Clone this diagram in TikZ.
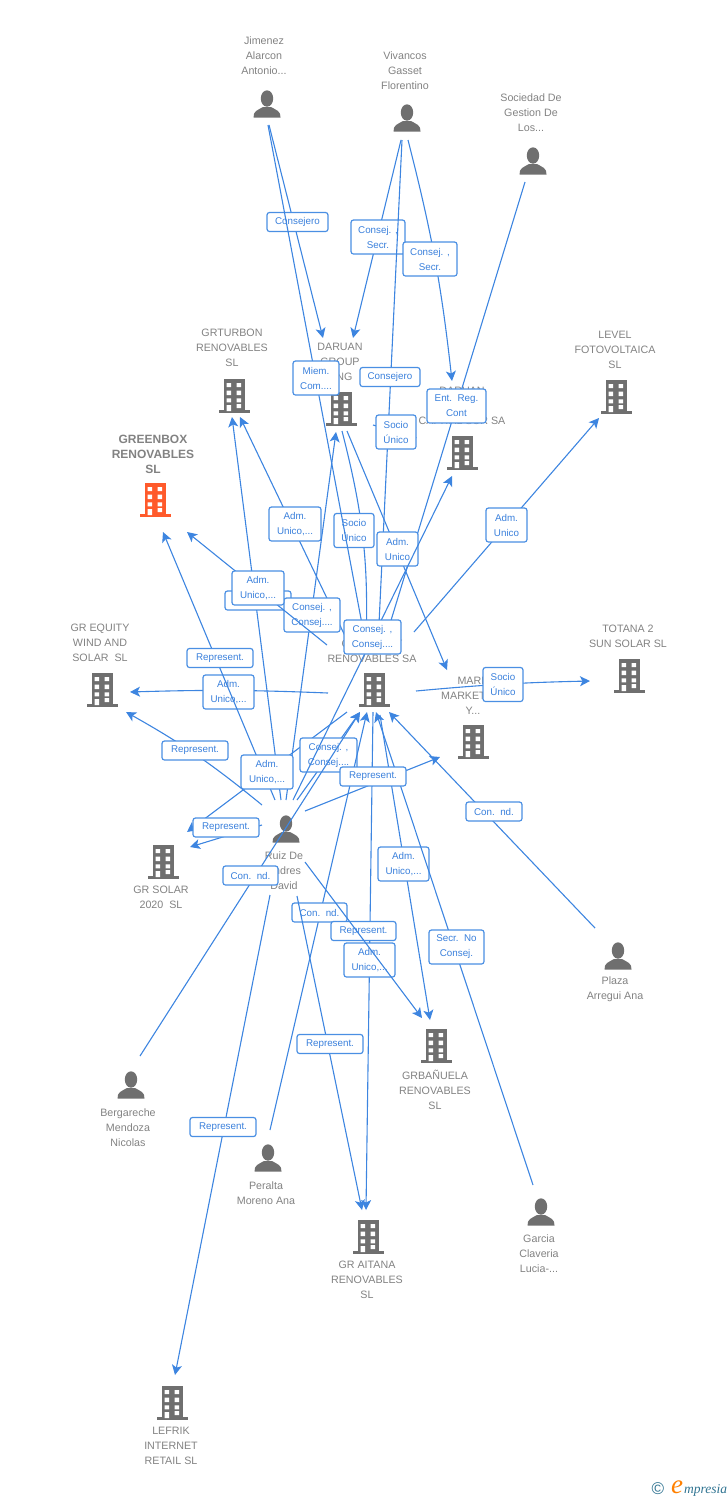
\documentclass[tikz,border=0pt]{standalone}
\usepackage{fontspec}
\setmainfont{Liberation Sans}
\newfontfamily\logofont{Liberation Serif}
\usetikzlibrary{arrows.meta}
\definecolor{linkblue}{HTML}{3D85E0}
\definecolor{boxblue}{HTML}{4A8FE3}
\definecolor{inkblue}{HTML}{3A80DC}
\definecolor{icongrey}{HTML}{6F6F6F}
\definecolor{txtgrey}{HTML}{828282}
\definecolor{hotorange}{HTML}{FF5A2B}
\definecolor{logoteal}{HTML}{2F7391}
\tikzset{
  ico/.style={inner sep=0pt,minimum size=1pt},
  txt/.style={inner sep=0pt,align=center,text=txtgrey,font=\fontsize{10.7}{15}\selectfont},
  conn/.style={draw=linkblue,line width=1.1pt,-{Stealth[length=10pt,width=10pt,inset=2.5pt]}},
  lbl/.style={draw=boxblue,line width=1.2pt,fill=white,rounded corners=2.5pt,inner sep=0pt,align=center,
    text=inkblue,font=\fontsize{9.8}{15}\selectfont},
  one/.style={lbl,minimum width=#1,minimum height=19pt},
  two/.style={lbl,minimum width=#1,minimum height=34pt},
  bldg/.pic={
    \fill[#1] (-10.5,-16) rectangle (10.5,16);
    \fill[#1] (-15.5,15) rectangle (15.5,17.5);
    \fill[white] (-7.3,-12) rectangle (-3,-8) (2.7,-12) rectangle (7,-8)
      (-7.3,-4.3) rectangle (-3,0) (2.7,-4.3) rectangle (7,0)
      (-7.3,3.3) rectangle (-3,7.3) (2.7,3.3) rectangle (7,7.3)
      (-7.3,10) rectangle (-3,16) (2.7,9) rectangle (7,13);
  },
  person/.pic={
    \fill[icongrey] (0,-5.5) ellipse (6.2 and 8.2);
    \fill[icongrey] (-13.5,13.5) .. controls (-14,7) and (-9,6) .. (-4,3) -- (4,3)
      .. controls (9,6) and (14,7) .. (13.5,13.5) -- cycle;
  },
}
\begin{document}
\begin{tikzpicture}[x=1pt,y=-1pt]
\useasboundingbox (0,0) rectangle (728,1500);
% ---------- entities
\node[ico] (jim) at (267,104) {}; \pic at (jim) {person};
\node[ico] (viv) at (407,118) {}; \pic at (viv) {person};
\node[ico] (soc) at (533,161) {}; \pic at (soc) {person};
\node[ico] (rui) at (286,829) {}; \pic at (rui) {person};
\node[ico] (ber) at (131,1085) {}; \pic at (ber) {person};
\node[ico] (pla) at (618,956) {}; \pic at (pla) {person};
\node[ico] (per) at (268,1158) {}; \pic at (per) {person};
\node[ico] (gar) at (541,1212) {}; \pic at (gar) {person};
\node[ico] (gtb) at (234,395) {}; \pic at (gtb) {bldg=icongrey};
\node[ico] (dgr) at (341,408) {}; \pic at (dgr) {bldg=icongrey};
\node[ico] (dcs) at (462,452) {}; \pic at (dcs) {bldg=icongrey};
\node[ico] (lev) at (616,396) {}; \pic at (lev) {bldg=icongrey};
\node[ico] (grb) at (155,499) {}; \pic at (grb) {bldg=hotorange};
\node[ico] (geq) at (102,689) {}; \pic at (geq) {bldg=icongrey};
\node[ico] (ren) at (374,689) {}; \pic at (ren) {bldg=icongrey};
\node[ico] (tot) at (629,675) {}; \pic at (tot) {bldg=icongrey};
\node[ico] (mrk) at (473,741) {}; \pic at (mrk) {bldg=icongrey};
\node[ico] (gso) at (163,861) {}; \pic at (gso) {bldg=icongrey};
\node[ico] (gba) at (436,1045) {}; \pic at (gba) {bldg=icongrey};
\node[ico] (gai) at (368,1236) {}; \pic at (gai) {bldg=icongrey};
\node[ico] (lef) at (172,1402) {}; \pic at (lef) {bldg=icongrey};
% ---------- entity names
\node[txt] (tjim) at (264,56) {Jimenez\\Alarcon\\Antonio...};
\node[txt] (tviv) at (405,71) {Vivancos\\Gasset\\Florentino};
\node[txt] (tsoc) at (531,113) {Sociedad De\\Gestion De\\Los...};
\node[txt] (tgtb) at (232,348) {GRTURBON\\RENOVABLES\\SL};
\node[txt] (tdgr) at (340,362) {DARUAN\\GROUP\\...NG};
\node[txt] (tdcs) at (462,406) {DARUAN\\[15pt]CAPITAL SUR SA};
\node[txt] (tlev) at (615,350) {LEVEL\\FOTOVOLTAICA\\SL};
\node[txt,font=\fontsize{12}{15}\bfseries\selectfont] (tgrb) at (153,454) {GREENBOX\\RENOVABLES\\SL};
\node[txt] (tgeq) at (100,643) {GR EQUITY\\WIND AND\\SOLAR\ \ SL};
\node[txt] (tren) at (372,651) {\makebox[61pt]{G\hfill T}\\RENOVABLES SA};
\node[txt] (ttot) at (628,636) {TOTANA 2\\SUN SOLAR SL};
\node[txt] (tmrk) at (473,696) {MARE\\MARKETING\\Y...};
\node[txt] (tgso) at (161,897) {GR SOLAR\\2020\ \ SL};
\node[txt] (trui) at (284,871) {Ruiz De\\Andres\\David};
\node[txt] (tber) at (128,1128) {Bergareche\\Mendoza\\Nicolas};
\node[txt] (tpla) at (615,989) {Plaza\\Arregui Ana};
\node[txt] (tgba) at (435,1090) {GRBAÑUELA\\RENOVABLES\\SL};
\node[txt] (tper) at (266,1193) {Peralta\\Moreno Ana};
\node[txt] (tgar) at (539,1254) {Garcia\\Claveria\\Lucia-...};
\node[txt] (tgai) at (367,1280) {GR AITANA\\RENOVABLES\\SL};
\node[txt] (tlef) at (171,1446) {LEFRIK\\INTERNET\\RETAIL SL};
% ---------- connectors, each followed by its label
\draw[conn] ([shift={(2,21)}]jim.center) -- ([shift={(-18,-70)}]dgr.center);
\node[one=61pt] (l01) at (297.5,222) {Consejero};
\draw[conn] ([shift={(-6,22)}]viv.center) -- ([shift={(12,-70)}]dgr.center);
\node[two=54pt] (l02) at (378,237) {Consej. ,\\Secr.};
\draw[conn] ([shift={(1,22)}]viv.center) to[bend left=4] ([shift={(-10,-71)}]dcs.center);
\node[two=54pt] (l03) at (430,259) {Consej. ,\\Secr.};
\draw[conn] ([shift={(-46,4)}]ren.center) to[bend right=2] ([shift={(28,3)}]geq.center);
\node[two=51pt] (l04) at (228.5,692) {Adm.\\Unico,...};
\draw[conn] ([shift={(1,23)}]dgr.center) to[bend left=8] ([shift={(-8,-45)}]ren.center);
\node[two=40pt] (l05) at (354,530.5) {Socio\\Único};
\draw[conn] ([shift={(-5,22)}]viv.center) -- ([shift={(4,-44)}]ren.center);
\node[one=60pt] (l06) at (390,377) {Consejero};
\draw[conn] ([shift={(1,21)}]jim.center) -- ([shift={(-9,-49)}]ren.center);
\node[two=46pt] (l07) at (316,378) {Miem.\\Com....};
\draw[conn] ([shift={(-8,21)}]soc.center) -- ([shift={(11,-49)}]ren.center);
\node[two=59pt] (l08) at (456.5,406) {Ent.\ \ Reg.\\Cont};
\draw[conn] ([shift={(32,17)}]dgr.center) -- ([shift={(-45,-14)}]dcs.center);
\node[two=40pt] (l09) at (396,432) {Socio\\Único};
\draw[conn] ([shift={(-27,-49)}]ren.center) -- ([shift={(6,22)}]gtb.center);
\node[two=52pt] (l10) at (295,524) {Adm.\\Unico,...};
\draw[conn] ([shift={(6,23)}]dgr.center) -- ([shift={(-26,-71)}]mrk.center);
\node[two=41pt] (l11) at (397.5,549) {Adm.\\Unico};
\draw[conn] ([shift={(40,-57)}]ren.center) -- ([shift={(-17,22)}]lev.center);
\node[two=41pt] (l12) at (506.5,525) {Adm.\\Unico};
\draw[conn] ([shift={(-5,-29)}]rui.center) -- ([shift={(-2,22)}]gtb.center);
\node[one=66pt] (l13) at (258,600.5) {Represent.};
\draw[conn] ([shift={(0,-29)}]rui.center) -- ([shift={(-5,24)}]dgr.center);
\node[two=56pt] (l14) at (312,615) {Consej. ,\\Consej....};
\draw[conn] ([shift={(-47,-44)}]ren.center) -- ([shift={(32,33)}]grb.center);
\node[two=52pt] (l15) at (258,588) {Adm.\\Unico,...};
\draw[conn] ([shift={(-11,-29)}]rui.center) -- ([shift={(8,33)}]grb.center);
\node[one=66pt] (l16) at (220,658) {Represent.};
\draw[conn] ([shift={(-24,-24)}]rui.center) to[bend right=5] ([shift={(24,23)}]geq.center);
\node[one=66pt] (l17) at (195,750.5) {Represent.};
\draw[conn] ([shift={(-27,23)}]ren.center) -- ([shift={(24,-29)}]gso.center);
\node[two=52pt] (l18) at (267,772) {Adm.\\Unico,...};
\draw[conn] ([shift={(-24,-4)}]rui.center) -- ([shift={(27,-14)}]gso.center);
\node[one=66pt] (l19) at (226,827.5) {Represent.};
\draw[conn] ([shift={(11,-29)}]rui.center) -- ([shift={(-14,23)}]ren.center);
\node[two=57pt] (l20) at (328.5,755) {Consej. ,\\Consej....};
\draw[conn] ([shift={(9,-29)}]ber.center) -- ([shift={(-14,23)}]ren.center);
\node[one=55pt] (l21) at (250.5,875.5) {Con.\ \ nd.};
\draw[conn] ([shift={(6,26)}]ren.center) -- ([shift={(-6,-25)}]gba.center);
\node[two=51pt] (l22) at (403.5,864) {Adm.\\Unico,...};
\draw[conn] ([shift={(-8,-27)}]gar.center) -- ([shift={(2,23)}]ren.center);
\node[two=55pt] (l23) at (456.5,947) {Secr.\ \ No\\Consej.};
\draw[conn] ([shift={(-1,23)}]ren.center) -- ([shift={(-2,-26)}]gai.center);
\node[two=51pt] (l24) at (369.5,960) {Adm.\\Unico,...};
\draw[conn] ([shift={(2,-28)}]per.center) -- ([shift={(-7,23)}]ren.center);
\node[one=55pt] (l25) at (319.5,912.5) {Con.\ \ nd.};
\node[one=65pt] (l26) at (363.5,931) {Represent.};
\draw[conn] ([shift={(19,33)}]rui.center) -- ([shift={(-14,-27)}]gba.center);
\draw[conn] ([shift={(11,67)}]rui.center) -- ([shift={(-6,-26)}]gai.center);
\node[one=66pt] (l27) at (330,1044) {Represent.};
\draw[conn] ([shift={(-16,66)}]rui.center) -- ([shift={(3,-27)}]lef.center);
\node[one=66pt] (l28) at (223,1127) {Represent.};
\draw[conn] ([shift={(-23,-28)}]pla.center) -- ([shift={(15,23)}]ren.center);
\node[one=56pt] (l29) at (494,811.5) {Con.\ \ nd.};
\draw[conn] ([shift={(19,-18)}]rui.center) -- ([shift={(-33,16)}]mrk.center);
\node[one=66pt] (l30) at (373,776.5) {Represent.};
\draw[conn] ([shift={(42,2)}]ren.center) to[bend left=2] ([shift={(-39,6)}]tot.center);
\node[two=40pt] (l31) at (503,684.5) {Socio\\Único};
\draw[conn] ([shift={(7,-29)}]rui.center) -- ([shift={(-10,24)}]dcs.center);
\node[two=57pt] (l32) at (372.5,637) {Consej. ,\\Consej....};
% ---------- maker's mark
\node[inner sep=0pt,text=logoteal,font=\fontsize{17}{17}\selectfont] (mark1) at (658,1489) {©};
\node[inner sep=0pt,text=orange,font=\logofont\itshape\fontsize{27}{27}\selectfont] (mark2) at (677,1487) {e};
\node[inner sep=0pt,anchor=west,text=logoteal,font=\logofont\itshape\fontsize{13.5}{14}\selectfont] (mark3) at (684,1490) {mpresia};
\end{tikzpicture}
\end{document}
